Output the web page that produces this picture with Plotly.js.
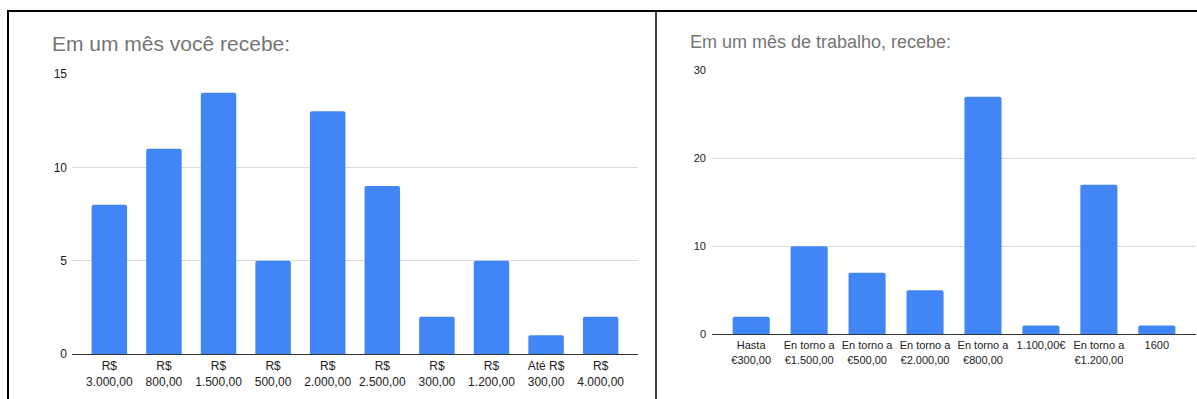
<!DOCTYPE html>
<html>
<head>
<meta charset="utf-8">
<script src="https://cdn.plot.ly/plotly-3.0.1.min.js"></script>
<style>
  html, body { margin: 0; padding: 0; background: #fff; }
  #chart { width: 1197px; height: 399px; }
</style>
</head>
<body>
<div id="chart"></div>
<script>
// Monthly income survey, Brazilian respondents (R$)
const brLabels = ["R$<br>3.000,00", "R$<br>800,00", "R$<br>1.500,00", "R$<br>500,00", "R$<br>2.000,00",
                  "R$<br>2.500,00", "R$<br>300,00", "R$<br>1.200,00", "Até R$<br>300,00", "R$<br>4.000,00"];
const brCounts = [8, 11, 14, 5, 13, 9, 2, 5, 1, 2];
const brTitle = "Em um mês você recebe:";

// Monthly income survey, Spanish respondents (€)
const esLabels = ["Hasta<br>€300,00", "En torno a<br>€1.500,00", "En torno a<br>€500,00", "En torno a<br>€2.000,00",
                  "En torno a<br>€800,00", "1.100,00€", "En torno a<br>€1.200,00", "1600"];
const esCounts = [2, 10, 7, 5, 27, 1, 17, 1];
const esTitle = "Em um mês de trabalho, recebe:";

const W = 1197, H = 399;
const px = v => v / W;
const py = v => 1 - v / H;

const FONT = '"Liberation Sans", Arial, sans-serif';
const BLUE = '#4285F4';

const traces = [
  {
    type: 'bar', x: brLabels, y: brCounts, xaxis: 'x', yaxis: 'y',
    marker: { color: BLUE, cornerradius: 2 }, width: 0.65, hoverinfo: 'x+y'
  },
  {
    type: 'bar', x: esLabels, y: esCounts, xaxis: 'x2', yaxis: 'y2',
    marker: { color: BLUE, cornerradius: 2 }, width: 0.64, hoverinfo: 'x+y'
  }
];

function yAxis(domain, max, dtick, size, anchor, standoff) {
  return {
    domain: domain, range: [0, max], dtick: dtick, anchor: anchor,
    showgrid: true, gridcolor: '#d9d9d9', gridwidth: 1,
    zeroline: true, zerolinecolor: '#333', zerolinewidth: 1,
    showline: false, ticks: '', fixedrange: true, ticklabelstandoff: standoff,
    tickfont: { family: FONT, size: size, color: '#1a1a1a' }
  };
}
function xAxis(domain, n, size, anchor, pad, standoff) {
  return {
    domain: domain, type: 'category', range: [-pad, n - 1 + pad], anchor: anchor,
    showgrid: false, zeroline: false, showline: false, ticks: '', fixedrange: true,
    ticklabelstandoff: standoff,
    tickfont: { family: FONT, size: size, color: '#222' }
  };
}

const layout = {
  width: W, height: H,
  margin: { l: 0, r: 0, t: 0, b: 0 },
  paper_bgcolor: '#fff', plot_bgcolor: '#fff',
  showlegend: false, bargap: 0.35,
  font: { family: FONT },
  xaxis: xAxis([px(72), px(638)], brLabels.length, 12, 'y', 0.684, 3),
  yaxis: yAxis([py(354), py(74)], 15, 5, 12, 'x', 4),
  xaxis2: xAxis([px(712), px(1196)], esLabels.length, 11, 'y2', 0.676, 3),
  yaxis2: yAxis([py(334.3), py(70.3)], 30, 10, 11, 'x2', 5),
  annotations: [
    {
      text: brTitle, xref: 'paper', yref: 'paper', x: px(50), y: py(43),
      xanchor: 'left', yanchor: 'middle', showarrow: false,
      font: { family: FONT, size: 21, color: '#757575' }
    },
    {
      text: esTitle, xref: 'paper', yref: 'paper', x: px(688), y: py(42),
      xanchor: 'left', yanchor: 'middle', showarrow: false,
      font: { family: FONT, size: 18, color: '#757575' }
    }
  ],
  shapes: [
    { type: 'line', xref: 'paper', yref: 'paper', x0: px(7), x1: 1, y0: py(11), y1: py(11),
      line: { color: '#000', width: 2 } },
    { type: 'line', xref: 'paper', yref: 'paper', x0: px(8), x1: px(8), y0: py(10), y1: 0,
      line: { color: '#000', width: 2 } },
    { type: 'line', xref: 'paper', yref: 'paper', x0: px(656), x1: px(656), y0: py(10), y1: 0,
      line: { color: '#000', width: 1.5 } }
  ]
};

Plotly.newPlot('chart', traces, layout, { staticPlot: true, displayModeBar: false });
</script>
</body>
</html>
